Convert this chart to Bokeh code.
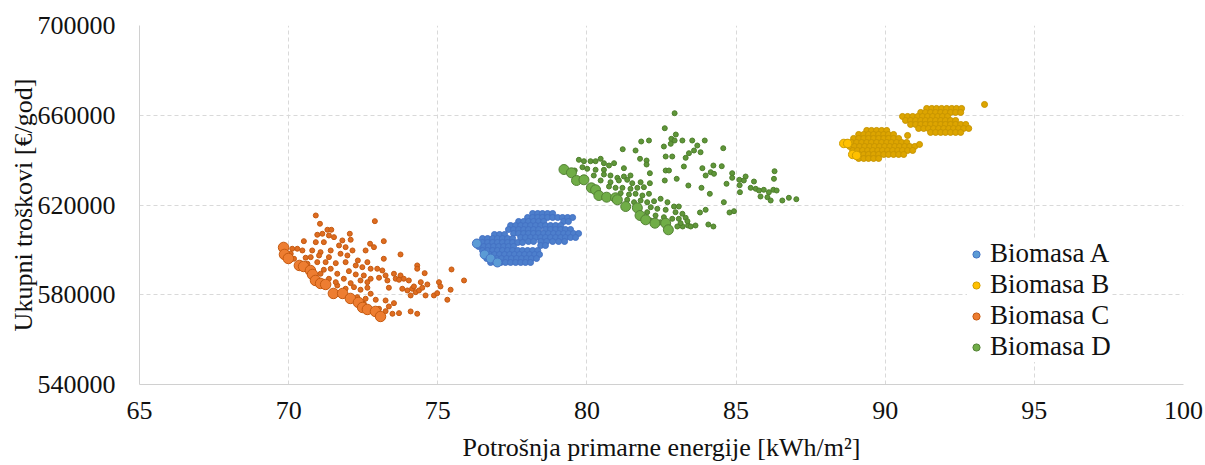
from bokeh.plotting import figure
from bokeh.models import Range1d, FixedTicker, BasicTickFormatter, Legend, LegendItem
from bokeh.embed import file_html
from bokeh.resources import INLINE

# ---------------- data ----------------
x_ticks = [65, 70, 75, 80, 85, 90, 95, 100]
y_ticks = [540000, 580000, 620000, 660000, 700000]
series_names = ["Biomasa A", "Biomasa B", "Biomasa C", "Biomasa D"]

# Biomasa A – dense cloud, read row by row (cost level, energy values)
a_row_y = [616210, 614430, 612650, 610860, 609080, 607300, 605520, 603740, 601950,
           606850, 605070, 603290, 601510, 599730, 597940, 596160, 594380]
a_row_x = [
    [78.18, 78.35, 78.51, 78.68, 78.85],
    [78.01, 78.18, 78.35, 78.51, 78.68, 78.85, 79.02, 79.18, 79.35, 79.52],
    [77.71, 77.88, 78.04, 78.21, 78.38, 78.55, 79.22, 79.38],
    [77.44, 77.61, 77.78, 77.94, 78.11, 78.28, 78.45, 78.61, 78.78, 78.95, 79.12],
    [77.37, 77.54, 77.71, 77.88, 78.04, 78.21, 78.38, 78.61, 78.78, 78.95, 79.12, 79.28, 79.45],
    [77.54, 77.71, 77.88, 78.04, 78.21, 78.38, 78.55, 78.71, 78.88, 79.05, 79.22, 79.38, 79.55, 79.72],
    [77.78, 77.94, 78.11, 78.28, 78.45, 78.61, 78.78, 78.95, 79.12, 79.28, 79.45, 79.62],
    [78.04, 78.21, 78.45, 78.65, 78.85, 79.05, 79.25],
    [78.45, 78.61],
    [76.90, 77.07, 77.24],
    [76.50, 76.67, 76.84, 77.00, 77.17, 77.34, 77.51],
    [76.33, 76.50, 76.67, 76.84, 77.00, 77.17, 77.34, 77.51, 77.68, 77.84],
    [76.37, 76.54, 76.70, 76.87, 77.04, 77.21, 77.37, 77.54],
    [76.50, 76.67, 76.84, 77.00, 77.17, 77.34, 77.51, 77.68, 77.84, 78.01, 78.18, 78.35],
    [76.57, 76.74, 76.90, 77.07, 77.24, 77.41, 77.57, 77.74, 77.91, 78.08, 78.25, 78.41],
    [76.64, 76.80, 76.97, 77.14, 77.31, 77.47, 77.64, 77.81, 77.98, 78.14, 78.31],
    [76.77, 76.94, 77.11, 77.27, 77.44, 77.61, 77.78, 77.94, 78.11],
]
a_front_x = [76.31, 76.57, 76.77, 77.00]
a_front_y = [602840, 597940, 596160, 594380]

# Biomasa B – two dense clouds, read row by row
b_row_y = [663030, 661250, 659470, 657680, 655900, 654120, 652340,
           653230, 651440, 649660, 647880, 646100, 644310, 642530, 640750]
b_row_x = [
    [91.39, 91.56, 91.72, 91.89, 92.06, 92.23, 92.39, 92.56],
    [91.19, 91.35, 91.52, 91.69, 91.86, 92.02, 92.19, 92.36, 92.53],
    [90.58, 90.75, 90.92, 91.09, 91.25, 91.42, 91.59, 91.76, 91.92, 92.09],
    [90.68, 90.85, 91.02, 91.19, 91.35, 91.52, 91.69, 91.86, 92.02, 92.19, 92.36],
    [90.85, 91.02, 91.19, 91.35, 91.52, 91.69, 91.86, 92.02, 92.19, 92.36, 92.53, 92.70],
    [91.12, 91.29, 91.45, 91.62, 91.79, 91.96, 92.13, 92.29, 92.46, 92.63, 92.80],
    [91.52, 91.69, 91.86, 92.02, 92.19, 92.36, 92.53],
    [89.38, 89.54, 89.71, 89.88, 90.05],
    [89.11, 89.28, 89.44, 89.61, 89.78, 89.95, 90.11, 90.28],
    [88.94, 89.11, 89.28, 89.44, 89.61, 89.78, 89.95, 90.11, 90.28, 90.45],
    [88.71, 88.87, 89.04, 89.21, 89.38, 89.54, 89.71, 89.88, 90.05, 90.21, 90.38, 90.55, 90.72],
    [88.81, 88.97, 89.14, 89.31, 89.48, 89.64, 89.81, 89.98, 90.15, 90.32, 90.48, 90.65, 90.82, 90.99],
    [88.91, 89.07, 89.24, 89.41, 89.58, 89.75, 89.91, 90.08, 90.25, 90.42, 90.58, 90.75, 90.92],
    [88.94, 89.11, 89.28, 89.44, 89.61, 89.78, 89.95, 90.11, 90.28, 90.45, 90.62],
    [89.11, 89.28, 89.44, 89.61, 89.78],
]
b_extra_x = [90.75, 91.15, 93.33]
b_extra_y = [651000, 646990, 664810]
b_front_x = [88.61, 88.74, 88.91, 89.04]
b_front_y = [647430, 647430, 642530, 642090]

# Biomasa C – scattered points
c_x = [70.91, 71.05, 72.89, 70.51, 70.96, 71.13, 71.30, 71.43, 71.35, 71.52,
       72.05, 71.80, 72.08, 71.18, 70.91, 71.69, 71.91, 72.73, 73.19, 70.29,
       70.46, 70.79, 71.07, 71.41, 71.74, 72.14, 72.58, 72.86, 73.75, 70.74,
       71.02, 71.35, 71.97, 72.32, 72.64, 73.19, 70.96, 71.24, 71.58, 71.91,
       72.25, 72.47, 72.75, 72.97, 73.14, 74.31, 74.31, 75.46, 71.41, 71.63,
       72.02, 72.25, 72.52, 72.75, 73.03, 73.25, 73.53, 73.75, 73.86, 74.56,
       71.85, 72.08, 72.41, 72.64, 73.31, 73.59, 73.70, 74.03, 74.43, 74.65,
       75.04, 75.88, 73.36, 73.81, 73.98, 74.14, 74.26, 74.20, 74.37, 74.48,
       74.59, 74.09, 75.09, 75.43, 75.32, 74.87, 74.98, 72.41, 72.64, 72.75,
       72.58, 72.92, 73.25, 73.53, 73.36, 73.25, 73.48, 73.70, 74.09, 74.31,
       72.19, 71.91, 71.63, 72.30, 72.52, 73.03, 73.14, 70.07, 70.18, 70.12,
       70.57, 70.63, 71.18, 71.07, 71.35, 71.58]
c_y = [615340, 611640, 612800, 603880, 606740, 607180, 608960, 608960, 606420, 605670,
       607180, 604200, 604510, 603440, 603440, 601970, 601210, 602730, 603880, 600500,
       599740, 599740, 598980, 599740, 598270, 599740, 599740, 601210, 597960, 596750,
       597510, 596750, 597510, 595280, 594530, 596040, 594530, 594530, 594080, 594530,
       593060, 592300, 591590, 591590, 590830, 593060, 591590, 591270, 591590, 589360,
       590520, 589050, 588600, 587130, 587580, 588600, 589360, 588600, 587130, 589630,
       587130, 585170, 586370, 585610, 586370, 587130, 586680, 586370, 585610, 584590,
       585610, 586370, 583120, 582670, 581920, 582670, 581160, 583700, 581920, 583120,
       579690, 579690, 583700, 582230, 577770, 579690, 580710, 582230, 583120, 580450,
       578220, 577770, 577460, 576260, 574790, 572690, 571530, 571800, 572560, 571530,
       583390, 582670, 584140, 578930, 575990, 573760, 570780, 598270, 596040, 600500,
       596490, 593810, 591140, 589360, 587130, 585610]
c_front_x = [69.83, 69.86, 69.99, 70.36, 70.50, 70.73, 70.80, 70.90, 71.07, 71.24,
             71.50, 71.81, 72.07, 72.34, 72.48, 72.64, 72.91, 73.08]
c_front_y = [601080, 597960, 596180, 593060, 592610, 590830, 589050, 586370, 585040, 584590,
             580580, 580580, 578350, 576570, 574340, 573450, 572560, 570330]

# Biomasa D – scattered points
d_x = [82.94, 82.61, 82.98, 82.83, 82.94, 83.20, 81.82, 82.08, 83.53, 83.95,
       83.70, 82.58, 82.81, 81.20, 81.63, 83.42, 83.59, 83.81, 84.57, 82.64,
       82.86, 83.31, 81.78, 82.00, 82.00, 83.25, 83.87, 84.24, 84.52, 82.64,
       82.75, 82.11, 83.98, 84.15, 84.26, 84.87, 84.87, 82.61, 83.01, 82.11,
       83.40, 83.84, 84.68, 85.11, 85.32, 85.26, 85.60, 85.12, 85.13, 85.49,
       85.66, 85.77, 85.93, 86.10, 86.25, 86.36, 86.29, 86.27, 85.82, 86.05,
       86.16, 86.55, 86.77, 87.02, 84.12, 84.59, 84.93, 84.78, 83.79, 83.98,
       84.07, 84.24, 83.64, 83.39, 83.21, 79.73, 79.90, 80.12, 80.29, 80.46,
       80.57, 80.74, 80.91, 79.85, 80.01, 80.29, 80.57, 81.24, 79.59, 80.23,
       80.57, 80.79, 81.02, 81.24, 81.46, 80.46, 80.79, 81.07, 81.35, 81.52,
       81.80, 80.74, 80.96, 81.19, 81.46, 81.69, 81.91, 81.13, 81.41, 81.63,
       81.86, 82.08, 81.35, 81.58, 81.80, 82.02, 82.25, 82.47, 82.70, 82.14,
       82.36, 82.64, 82.92, 83.08, 82.97, 83.20, 82.02, 82.30, 82.58, 82.86,
       83.08, 83.31, 83.37, 83.14, 83.48, 83.03, 82.14, 82.47]
d_y = [660910, 654220, 651410, 649500, 648740, 648740, 648300, 648740, 648740, 648740,
       646510, 646070, 647270, 644860, 644290, 643080, 644290, 643530, 645310, 641610,
       641610, 641030, 640590, 639830, 638050, 637160, 636400, 637600, 637290, 635370,
       635370, 634170, 633150, 634620, 633900, 634170, 632120, 630920, 631670, 629710,
       628690, 627660, 629450, 631230, 632700, 630920, 630470, 628820, 625700, 627660,
       627220, 626460, 626770, 625700, 626770, 626460, 635060, 631670, 623790, 623480,
       622010, 622010, 623210, 622580, 624990, 621250, 617240, 616660, 616660, 617860,
       611310, 610420, 610870, 610870, 610420, 640140, 639520, 639520, 639520, 640590,
       638630, 637600, 638630, 636840, 636130, 635690, 635690, 636400, 635370, 633150,
       633590, 633150, 632120, 632700, 633150, 630920, 630160, 630920, 631230, 629710,
       630160, 628240, 627660, 627660, 627220, 627660, 627930, 625260, 624680, 624990,
       624230, 624990, 622320, 621250, 622010, 621250, 621690, 622760, 621250, 619020,
       618310, 617860, 619330, 619330, 616790, 616080, 616790, 615320, 614560, 613850,
       613850, 614300, 612780, 611890, 610420, 610420, 613090, 612340]
d_front_x = [79.23, 79.48, 79.65, 79.90, 80.15, 80.29, 80.40, 80.66, 80.96, 81.02,
             81.30, 81.69, 81.78, 81.97, 82.28, 82.64, 82.73]
d_front_y = [635820, 634350, 630920, 631230, 627660, 626770, 624230, 623480, 623210, 622320,
             619330, 618750, 615320, 613410, 611890, 611890, 608950]


def flatten_rows(row_y, row_x):
    xs, ys = [], []
    for yv, xr in zip(row_y, row_x):
        for xv in xr:
            xs.append(xv)
            ys.append(yv)
    return xs, ys


a_x, a_y = flatten_rows(a_row_y, a_row_x)
b_x, b_y = flatten_rows(b_row_y, b_row_x)
b_x += b_extra_x
b_y += b_extra_y

# ---------------- figure ----------------
FONT = "Liberation Serif"
p = figure(width=1205, height=465, output_backend="svg", toolbar_location=None,
           x_range=Range1d(65, 100), y_range=Range1d(540000, 700000),
           min_border_left=139, min_border_right=22, min_border_top=25, min_border_bottom=81)
p.outline_line_color = None
p.background_fill_color = "white"

styles = [
    # cloud fill, cloud line, cloud size, front fill, front line, front size
    ("#4D7FCC", "#4472C4", 6, "#5B9BD5", "#4472C4", 9),
    ("#DDA500", "#C89500", 6, "#FFC000", "#D09E00", 8.5),
    ("#DE6C20", "#C55A11", 5, "#ED7D31", "#C55A11", 10.5),
    ("#5F9639", "#4E7F2C", 5, "#70AD47", "#548235", 10),
]
clouds = [(a_x, a_y), (b_x, b_y), (c_x, c_y), (d_x, d_y)]
fronts = [(a_front_x, a_front_y), (b_front_x, b_front_y),
          (c_front_x, c_front_y), (d_front_x, d_front_y)]

legend_items = []
for name, (cx, cy), (fx, fy), st in zip(series_names, clouds, fronts, styles):
    p.scatter(cx, cy, marker="circle", size=st[2], fill_color=st[0],
              line_color=st[1], line_width=1)
    r = p.scatter(fx, fy, marker="circle", size=st[5], fill_color=st[3],
                  line_color=st[4], line_width=1)
    legend_items.append(LegendItem(label=name, renderers=[r]))

# axes
p.xaxis.ticker = FixedTicker(ticks=x_ticks)
p.yaxis.ticker = FixedTicker(ticks=y_ticks)
p.yaxis.formatter = BasicTickFormatter(use_scientific=False)
for ax in (p.xaxis[0], p.yaxis[0]):
    ax.axis_line_color = "#D0D0D0"
    ax.axis_line_width = 1
    ax.major_tick_line_color = None
    ax.minor_tick_line_color = None
    ax.major_tick_out = 0
    ax.major_tick_in = 0
    ax.minor_tick_out = 0
    ax.major_label_text_font = FONT
    ax.major_label_text_font_size = "26px"
    ax.major_label_text_color = "#111111"
    ax.axis_label_text_font = FONT
    ax.axis_label_text_font_size = "26px"
    ax.axis_label_text_font_style = "normal"
    ax.axis_label_text_color = "#111111"

p.xaxis.axis_label = "Potrošnja primarne energije [kWh/m²]"
p.yaxis.axis_label = "Ukupni troškovi [€/god]"
p.xaxis.major_label_standoff = 17
p.xaxis.axis_label_standoff = 11
p.yaxis.major_label_standoff = 24
p.yaxis.axis_label_standoff = -3

for g in (p.xgrid[0], p.ygrid[0]):
    g.grid_line_color = "#D9D9D9"
    g.grid_line_dash = "4 3"
    g.grid_line_width = 1
p.xgrid.ticker = FixedTicker(ticks=x_ticks)
p.ygrid.ticker = FixedTicker(ticks=y_ticks)

legend = Legend(items=legend_items, location=(828, 22),
                label_text_font=FONT, label_text_font_size="27px",
                label_text_color="#111111",
                glyph_width=18, glyph_height=18, label_height=30,
                label_standoff=5, spacing=0, padding=5,
                background_fill_color="white", background_fill_alpha=1.0,
                border_line_color=None)
p.add_layout(legend)

open("out.html", "w").write(file_html(p, INLINE))
